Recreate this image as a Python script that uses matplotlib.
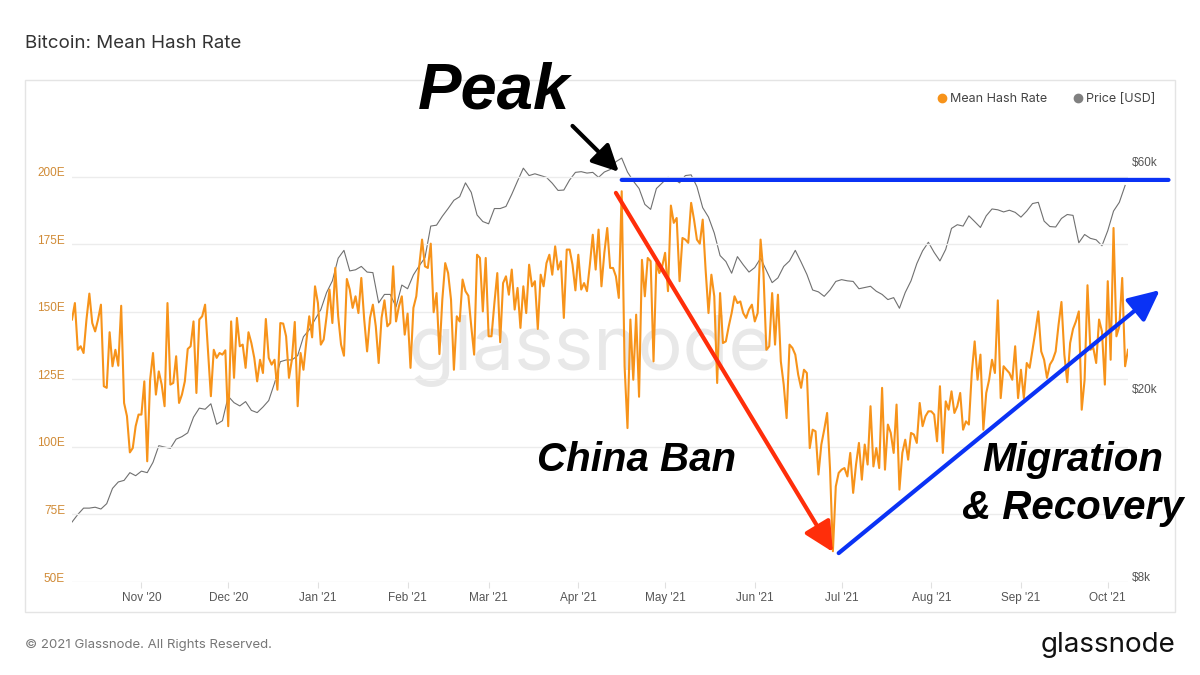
import matplotlib
matplotlib.use('Agg')
import matplotlib.pyplot as plt
import pandas as pd
from matplotlib.lines import Line2D
from matplotlib.patches import Rectangle
from matplotlib.ticker import NullLocator
from matplotlib.transforms import ScaledTranslation

# daily mean hash rate [EH/s] (2020-10-08 .. 2021-10-08)
START = '2020-10-08'
hash_rate = [
    # Oct - Dec 2020
    147.2, 153.3, 136.0, 137.3, 134.8, 147.2, 156.8, 145.9, 142.8, 147.2,
    152.7, 122.5, 121.9, 142.5, 129.9, 136.0, 130.1, 152.3, 116.3, 111.4,
    98.0, 99.6, 107.7, 112.0, 112.0, 124.3, 94.7, 124.9, 134.8, 119.4,
    128.0, 123.1, 115.1, 153.3, 123.1, 123.7, 133.6, 116.3, 119.4, 124.3,
    136.3, 137.3, 146.5, 120.0, 147.2, 148.4, 152.7, 136.0, 118.8, 136.0,
    133.0, 134.8, 134.2, 135.8, 107.7, 146.5, 125.6, 147.8, 137.3, 137.9,
    129.3, 142.5, 138.5, 133.0, 124.3,
    # Dec 2020 - Feb 2021
    132.3, 127.4, 147.4, 133.0, 130.5, 132.3, 121.2, 145.9, 145.7, 141.0,
    125.6, 132.3, 146.3, 115.1, 134.8, 128.6, 139.1, 148.4, 140.6, 159.5,
    153.3, 137.9, 139.8, 148.4, 158.3, 145.9, 166.3, 148.4, 137.9, 133.8,
    162.2, 158.3, 151.5, 155.8, 149.6, 162.6, 147.2, 135.4, 147.8, 152.7,
    144.7, 131.1, 147.8, 154.3, 144.7, 145.9, 166.9, 146.5, 152.1, 155.8,
    141.6, 149.4, 129.3, 151.5, 155.8, 166.9, 176.8, 166.9, 166.3, 175.3,
    149.9, 157.0, 134.4, 154.6, 168.1, 164.4,
    # Feb - Apr 2021
    154.6, 128.6, 148.4, 146.5, 162.0, 157.7, 156.0, 144.7, 134.2, 171.2,
    170.0, 150.2, 170.0, 141.0, 141.0, 153.3, 164.4, 138.8, 160.7, 163.2,
    156.4, 165.7, 150.9, 158.9, 144.1, 159.5, 149.6, 167.5, 159.5, 161.4,
    143.7, 163.8, 159.5, 168.1, 171.2, 163.8, 174.3, 165.7, 168.8, 147.8,
    173.1, 173.1, 167.5, 158.0, 171.2, 158.3, 160.7, 157.7, 167.5, 178.6,
    165.7, 180.5, 159.5, 171.9, 181.1, 166.3, 166.3, 163.2, 155.2, 194.7,
    129.9, 107.0, 147.2, 124.9, 149.0,
    # Apr - Jun 2021
    118.6, 169.3, 155.8, 170.0, 168.8, 131.7, 168.1, 164.4, 166.9, 171.9,
    157.7, 189.4, 183.0, 184.8, 161.4, 177.4, 176.8, 175.6, 190.4, 184.2,
    176.8, 175.3, 184.2, 165.7, 149.6, 163.8, 155.8, 123.7, 157.0, 138.5,
    139.1, 144.7, 149.6, 155.8, 153.3, 153.9, 149.6, 147.8, 150.9, 152.7,
    146.5, 149.6, 176.8, 164.4, 136.0, 137.3, 157.0, 137.9, 156.4, 131.7,
    123.1, 110.7, 137.9, 136.7, 134.2, 126.8, 121.9, 128.6, 127.4, 99.6,
    106.4, 105.8, 89.8, 100.9, 106.4, 112.6,
    # Jun - Sep 2021
    92.0, 61.4, 85.4, 90.4, 91.6, 92.2, 89.1, 97.8, 83.0, 93.5,
    101.5, 87.9, 100.9, 93.5, 115.1, 92.8, 99.6, 92.2, 121.9, 91.6,
    108.3, 105.2, 97.8, 115.7, 84.2, 97.8, 102.7, 95.3, 105.2, 104.6,
    101.5, 116.3, 107.7, 111.4, 113.2, 113.2, 112.0, 102.1, 122.5, 97.8,
    116.9, 113.8, 120.6, 112.6, 115.1, 120.0, 106.4, 109.5, 108.3, 127.4,
    139.1, 124.9, 134.2, 106.4, 120.0, 124.9, 132.3, 127.4, 154.3, 118.1,
    129.9, 128.6, 127.4, 124.9, 137.3,
    # Sep - Oct 2021
    118.1, 128.6, 118.1, 131.1, 129.3, 136.0, 142.8, 150.2, 135.4, 132.3,
    125.6, 130.5, 132.3, 135.4, 145.3, 153.7, 134.2, 124.0, 138.5, 143.7,
    146.5, 150.2, 113.8, 124.9, 159.9, 136.0, 136.7, 131.1, 147.2, 142.8,
    123.1, 161.4, 132.3, 181.1, 141.0, 144.7, 162.6, 129.9, 136.0,
]

# BTC price [k USD], every second day
price_k = [
    10.7, 11.1, 11.45, 11.45, 11.5, 11.4, 11.7, 12.6, 13.0, 13.1,
    13.6, 13.4, 13.7, 13.6, 14.3, 15.5, 15.4, 15.3, 16.0, 16.2,
    16.5, 17.8, 18.6, 18.5, 19.0, 17.2, 17.5, 19.7, 19.1, 18.8,
    19.2, 18.4, 18.2, 18.7, 19.3, 21.0, 23.3, 23.5, 23.5, 24.0,
    26.3, 27.2, 28.6, 30.0, 32.6, 34.5, 38.5, 40.0, 36.2, 36.4,
    37.0, 36.0, 35.9, 31.0, 32.3, 32.3, 30.4, 33.8, 33.2, 35.5,
    37.1, 38.6, 45.0, 45.2, 47.2, 49.0, 51.0, 51.9, 55.5, 53.0,
    47.5, 46.0, 45.5, 49.0, 49.0, 49.5, 52.5, 56.0, 59.6, 57.5,
    58.0, 57.5, 57.0, 55.4, 53.5, 53.6, 56.3, 58.4, 58.6, 58.2,
    58.4, 57.0, 58.5, 59.2, 61.5, 62.6, 58.5, 56.0, 54.0, 50.0,
    48.8, 54.0, 55.5, 57.0, 56.6, 55.5, 57.5, 57.7, 54.5, 49.2,
    47.0, 43.5, 39.0, 37.9, 35.8, 38.8, 37.3, 36.0, 36.8, 38.5,
    36.3, 34.2, 35.0, 37.0, 38.0, 40.0, 37.8, 35.6, 33.0, 32.7,
    32.0, 33.0, 34.4, 34.7, 34.5, 34.4, 33.2, 33.4, 33.6, 32.8,
    32.3, 31.5, 31.8, 30.2, 32.6, 34.5, 37.5, 39.9, 41.6, 39.6,
    38.0, 40.2, 44.5, 45.3, 45.0, 47.3, 46.0, 44.7, 47.3, 48.9,
    48.7, 48.2, 48.6, 48.1, 47.0, 48.4, 50.2, 50.5, 46.1, 44.9,
    44.8, 46.7, 47.6, 47.4, 41.5, 43.2, 42.4, 42.1, 40.9, 44.0,
    48.4, 50.5, 54.8,
]

hash_ticks = [50, 75, 100, 125, 150, 175, 200]
price_ticks = [8000, 20000, 60000]
price_tick_labels = ['$8k', '$20k', '$60k']
month_ticks = pd.date_range('2020-11-01', '2021-10-01', freq='MS')

# annotation anchors (date, hash rate)
peak_arrow = (('2021-03-30', 218.9), ('2021-04-15', 201.9))
peak_level = (('2021-04-16', 198.9), ('2021-10-22', 198.9))
ban_arrow = (('2021-04-14', 194.1), ('2021-06-28', 61.1))
recovery_arrow = (('2021-06-30', 60.7), ('2021-10-19', 158.1))

ORANGE = '#f7931a'
GREY = '#707070'
BLUE = '#0a32f5'
RED = '#ff2e0a'

hash_dates = pd.date_range(START, periods=len(hash_rate), freq='D')
price_dates = pd.date_range(START, periods=len(price_k), freq='2D')
price_usd = [p * 1000 for p in price_k]

fig = plt.figure(figsize=(12, 6.75), dpi=100)
fig.add_artist(Rectangle((25 / 1200, 1 - 612 / 675), 1150 / 1200, 532 / 675,
                         transform=fig.transFigure, fill=False,
                         edgecolor='#e4e4e4', lw=1))

ax = fig.add_axes([0.06, 1 - 582 / 675, 0.88, 492 / 675])
ax2 = ax.twinx()
ax.set_zorder(ax2.get_zorder() + 1)
ax.patch.set_visible(False)

ax2.plot(price_dates, price_usd, color=GREY, lw=0.8)
ax.plot(hash_dates, hash_rate, color=ORANGE, lw=1.5)

ax.set_xlim(hash_dates[0], hash_dates[-1])
ax.set_ylim(50, 232.2)
ax2.set_yscale('log')
ax2.set_ylim(8000, 87100)

for a in (ax, ax2):
    for s in a.spines.values():
        s.set_visible(False)

ax.set_yticks(hash_ticks, [f'{v}E' for v in hash_ticks])
ax.tick_params(axis='y', length=0, pad=5, labelcolor='#d08a35', labelsize=8.5)
ax.grid(axis='y', color='#ececec', lw=1)
ax.set_axisbelow(True)

ax2.set_yticks(price_ticks, price_tick_labels)
ax2.yaxis.set_minor_locator(NullLocator())
ax2.tick_params(axis='y', which='both', length=0, pad=3, labelcolor='#555555', labelsize=8.5)

ax.set_xticks(month_ticks, [d.strftime("%b '%y") for d in month_ticks])
ax.tick_params(axis='x', length=4, color='#e0e0e0', pad=3, labelcolor='#555555', labelsize=8.5)

lift = ScaledTranslation(0, 5 / 100, fig.dpi_scale_trans)
for lbl in ax.get_yticklabels() + ax2.get_yticklabels():
    lbl.set_transform(lbl.get_transform() + lift)
for lbl in ax.get_xticklabels() + ax.get_yticklabels() + ax2.get_yticklabels():
    lbl.set_fontfamily('Liberation Sans')

# watermark
ax2.text(0.4905, 0.4715, 'glassnode', transform=ax2.transAxes, ha='center', va='center',
         fontsize=54, color='#e8e8e8', family='Inter', zorder=0)

handles = [Line2D([], [], marker='o', ls='', color=ORANGE, markersize=6),
           Line2D([], [], marker='o', ls='', color='#808080', markersize=6)]
ax.legend(handles, ['Mean Hash Rate', 'Price [USD]'], loc='center right',
          bbox_to_anchor=(1155 / 1200, 1 - 99 / 675), bbox_transform=fig.transFigure,
          ncol=2, frameon=False, handletextpad=0.1, columnspacing=2.0,
          handlelength=1.0, borderaxespad=0, borderpad=0,
          prop={'family': 'Inter', 'size': 9}, labelcolor='#444444')


def arrow(pts, color, head, lw=3):
    (x0, y0), (x1, y1) = pts
    ax.annotate('', xy=(pd.Timestamp(x1), y1), xytext=(pd.Timestamp(x0), y0),
                annotation_clip=False, zorder=10,
                arrowprops=dict(arrowstyle=head, color=color, lw=lw,
                                shrinkA=0, shrinkB=0, mutation_scale=20))


arrow(peak_arrow, 'black', '-|>,head_length=0.8,head_width=0.4')
arrow(peak_level, BLUE, '-')
arrow(ban_arrow, RED, '-|>,head_length=0.9,head_width=0.45')
arrow(recovery_arrow, BLUE, '-|>,head_length=0.95,head_width=0.45')

bold = dict(family='Liberation Sans', weight='bold', style='italic', color='black',
            ha='center', va='center', zorder=11, clip_on=False)
ax.text(pd.Timestamp('2021-03-03'), 231.5, 'Peak', fontsize=47, **bold)
ax.text(pd.Timestamp('2021-04-21'), 95.2, 'China Ban', fontsize=29, **bold)
ax.text(pd.Timestamp('2021-09-19'), 95.2, 'Migration', fontsize=29, **bold)
ax.text(pd.Timestamp('2021-09-19'), 77.4, '& Recovery', fontsize=29, **bold)

fig.text(25 / 1200, 1 - 43 / 675, 'Bitcoin: Mean Hash Rate', fontsize=13.5,
         family='Inter', color='#333333', va='center', ha='left')
fig.text(25 / 1200, 1 - 645 / 675, '\u00a9 2021 Glassnode. All Rights Reserved.',
         fontsize=9.5, family='Inter', color='#777777', va='center', ha='left')
fig.text(1175 / 1200, 1 - 645 / 675, 'glassnode', fontsize=20, family='Inter',
         color='#111111', va='center', ha='right')

fig.savefig('out.png', dpi=100, facecolor='white')
